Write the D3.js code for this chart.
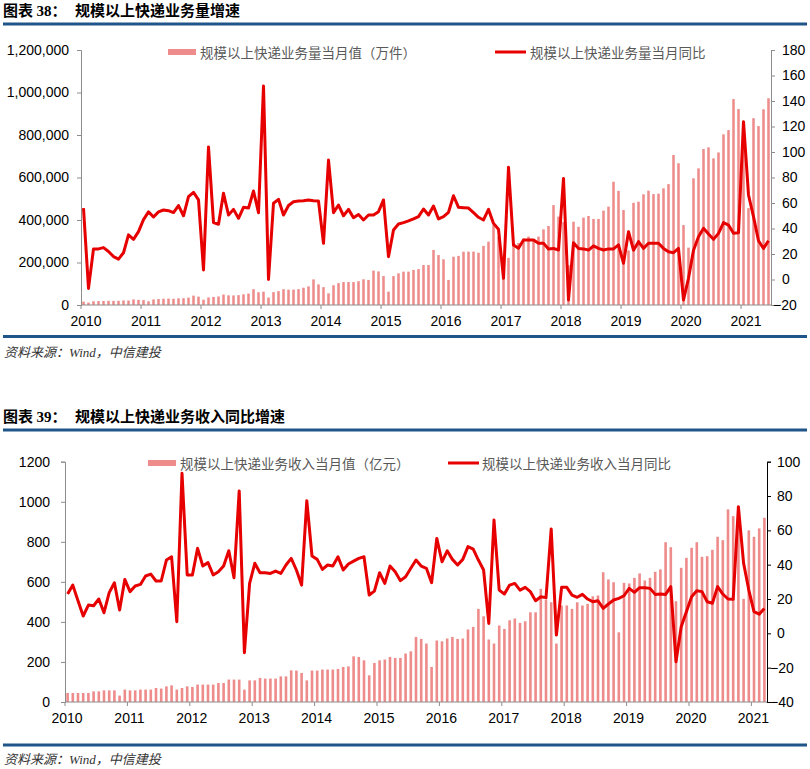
<!DOCTYPE html>
<html><head><meta charset="utf-8">
<script src="https://cdn.jsdelivr.net/npm/d3@7"></script>
<style>
body{margin:0;background:#fff;}
svg{display:block;}
</style></head><body>
<svg id="c" width="810" height="769"></svg>
<script>
// ---------------- DATA: chart 38 (express volume) ----------------
const years1 = ["2010","2011","2012","2013","2014","2015","2016","2017","2018","2019","2020","2021"];
const volume = [ // 万件, monthly from Jan 2010
 15780,11330,17670,18300,19000,19600,19100,19800,21400,21000,26200,24300,
 23200,17300,26300,28000,29400,30200,29100,31300,32100,34600,44000,39400,
 24900,35300,38000,40100,49300,45500,45100,46300,50300,54000,74500,60000,
 62700,35300,60700,65300,74200,71900,72600,74800,81400,87700,120500,96900,
 84000,55000,93000,103000,108000,108000,108000,112000,121000,118000,162000,158000,
 136000,63000,136000,149000,157000,157000,165000,169000,188000,188000,259000,235000,
 215000,118000,227000,231000,251000,251000,251000,246000,278000,298000,376000,322000,
 217000,222000,285000,292000,313000,322000,309000,322000,356000,372000,470000,416000,
 390000,187000,392000,368000,411000,419000,405000,405000,444000,463000,580000,537000,
 447000,257000,481000,486000,521000,538000,522000,524000,549000,569000,706000,667000,
 376000,270000,596000,643000,734000,742000,690000,718000,803000,823000,969000,922000,
 835000,456000,879000,842000,921000,973000
];
const volumeYoY = [ // %
 56,-7,24,24,25,22,18,16,21,35,31.5,37.5,
 47,53,49,53,54.5,54,52.5,58,50,65,68.4,62.4,
 7.5,104,44.6,43.3,67.6,50.6,55,48,56.6,56,69.4,52.4,
 151.8,0,59.8,62.9,50.6,58,61,61.5,61.8,62.4,61.8,61.5,
 28.4,93.7,52.4,58.4,50,55,48.5,51,46.7,50.6,50.6,53.2,
 62.4,17.9,38.8,43.5,44.6,46,47.5,49.3,55.3,50.6,57.6,47.5,
 49.3,52.7,65.7,56.6,56.3,56,52.4,48.8,46.7,55,44,39.4,
 1,88,27,24.5,31,31,31,28.4,28.4,24,24.4,23.1,
 79.3,-16,28.9,24.4,24,23.1,26.3,24.4,23.1,24,24,27.1,
 12.7,37.5,23,29.7,24.4,28.4,28.4,28.4,24.4,21.8,21,24.4,
 -16,1,23,33.6,40.2,35.7,31.5,36.2,44.6,42.7,36.2,36.7,
 123.8,66.3,49.3,30.4,24.4,30.4
];
const leftTicks1 = [0,200000,400000,600000,800000,1000000,1200000];
const rightTicks1 = [-20,0,20,40,60,80,100,120,140,160,180];

// ---------------- DATA: chart 39 (express revenue) ----------------
const years2 = ["2010","2011","2012","2013","2014","2015","2016","2017","2018","2019","2020","2021"];
const revenue = [ // 亿元
 45,45,45,45,45,53,53,58,58,58,32,62,
 58,58,62,62,62,70,67,78,83,62,70,78,
 75,87,87,87,87,95,95,112,112,112,62,108,
 108,120,117,117,117,128,128,158,157,145,108,157,
 157,162,162,162,165,175,178,228,225,208,133,195,
 208,212,225,220,220,242,253,325,315,292,175,307,
 303,317,325,315,317,362,375,465,428,312,292,382,
 365,408,417,395,403,448,448,565,512,498,292,482,
 482,465,498,482,490,528,532,648,612,598,348,595,
 592,620,642,607,620,650,662,798,773,503,670,720,
 770,798,725,728,760,825,808,962,928,870,515,857,
 825,867,920
];
const revenueYoY = [ // %
 22.9,28.1,19.0,10.1,16.5,16.1,20.0,12.0,23.7,29.5,13.6,31.4,
 24.3,27.6,28.5,33.4,34.5,30.5,30.5,42.7,44.6,6.8,93.2,34.0,
 34.0,49.5,39.2,41.2,34.0,35.9,39.2,48.1,32.4,83,-11.3,29.1,
 40.8,35.3,35.3,34.9,36.3,34.9,39.8,43.7,36.9,28.1,77.3,45.0,
 43.1,37.3,39.8,39.2,44.6,36.9,40.4,42.1,43.7,44.6,22.3,24.6,
 35.3,29.1,39.2,35.9,30.7,33.0,37.9,42.7,39.2,37.9,29.5,55.3,
 41.7,48.1,43.1,39.8,43.1,50.5,49.1,42.7,36.9,5.8,66.0,25.2,
 22.9,28.1,29.1,25.2,26.8,24.3,19.0,21.3,20.8,60.8,-1.0,26.8,
 26.8,22.3,21.0,22.7,20,18.4,19.0,14.5,17.1,19.4,20.4,21.9,
 26.2,23.9,26.6,26.6,26.2,22.7,22.9,22.7,27.2,-16.5,3.9,12.6,
 21.3,24.8,24.3,18.4,17.5,27.2,22.9,20.0,19.8,73.8,40.8,25.2,
 12.6,11.2,14.5
];
const leftTicks2 = [0,200,400,600,800,1000,1200];
const rightTicks2 = [-40,-20,0,20,40,60,80,100];

// ---------------- STYLE ----------------
const BLUE = "#1f5588", BAR = "#ee8b8b", LINE = "#e60000", AXIS = "#8c8c8c";
const NUM = "Liberation Sans, Arial, sans-serif";
const CJK = "Noto Sans CJK SC, sans-serif";

const svg = d3.select("#c");

function panel(o){
  const g = svg.append("g");
  // title
  const t = g.append("text").attr("x",3).attr("y",o.titleY).attr("font-size",15)
    .attr("font-weight","bold").attr("fill","#000");
  t.append("tspan").attr("font-family",CJK).text("图表 ");
  t.append("tspan").attr("font-family","Liberation Serif, serif").text(o.num);
  t.append("tspan").attr("font-family",CJK).text("：");
  g.append("text").attr("x",75).attr("y",o.titleY).attr("font-family",CJK)
    .attr("font-size",15).attr("font-weight","bold").attr("fill","#000").text(o.title);
  g.append("rect").attr("x",3).attr("y",o.ruleTop-1.5).attr("width",804).attr("height",3).attr("fill",BLUE);
  g.append("rect").attr("x",3).attr("y",o.ruleBot-1.5).attr("width",804).attr("height",3).attr("fill",BLUE);
  const src = g.append("text").attr("x",4).attr("y",o.srcY).attr("font-size",13)
    .attr("font-style","italic").attr("fill","#333");
  src.append("tspan").attr("font-family",CJK).text("资料来源：");
  src.append("tspan").attr("font-family","Liberation Serif, serif").text("Wind");
  src.append("tspan").attr("font-family",CJK).text("，中信建投");

  const cats = o.bars.map((d,i)=>i);
  const x = d3.scaleBand().domain(cats).range([o.x0,o.x1]).paddingInner(o.padIn).paddingOuter(o.padIn/2);
  const yL = d3.scaleLinear().domain([0,o.leftTicks[o.leftTicks.length-1]]).range([o.yB,o.yT]);
  const yR = d3.scaleLinear().domain([o.rightTicks[0],o.rightTicks[o.rightTicks.length-1]]).range([o.yB,o.yT]);

  // bars
  g.append("g").selectAll("rect").data(o.bars).join("rect")
    .attr("x",(d,i)=>x(i)).attr("width",x.bandwidth())
    .attr("y",d=>yL(d)).attr("height",d=>yL(0)-yL(d)).attr("fill",BAR);

  // axes
  const axL = g.append("g").attr("transform",`translate(${o.x0},0)`)
    .call(d3.axisLeft(yL).tickValues(o.leftTicks).tickSize(4).tickPadding(o.lPad).tickFormat(o.lFmt));
  const axR = g.append("g").attr("transform",`translate(${o.x1},0)`)
    .call(d3.axisRight(yR).tickValues(o.rightTicks).tickSize(4).tickPadding(7).tickFormat(d3.format("d")));
  axR.selectAll(".tick text").attr("x",d=>d<0?o.negX:o.posX);
  [axL,axR].forEach(a=>{
    a.select(".domain").attr("stroke",o.axisColor||AXIS);
    a.selectAll(".tick line").attr("stroke",o.axisColor||AXIS);
    a.selectAll(".tick text").attr("font-family",NUM).attr("font-size",14).attr("fill","#000");
  });
  axR.select(".domain").attr("stroke",o.rAxisColor); axR.selectAll(".tick line").attr("stroke",o.rAxisColor);
  // x axis
  const xa = g.append("g");
  xa.append("line").attr("x1",o.x0).attr("x2",o.x1).attr("y1",yL(0)).attr("y2",yL(0)).attr("stroke",AXIS);
  const half = (x.step()-x.bandwidth())/2;
  o.years.forEach((yr,k)=>{
    const xt = x(k*12) - half;
    xa.append("line").attr("x1",xt).attr("x2",xt).attr("y1",yL(0)).attr("y2",yL(0)+4).attr("stroke",AXIS);
    xa.append("text").attr("x",xt+o.labOff).attr("y",o.xLabY).attr("text-anchor","middle")
      .attr("font-family",NUM).attr("font-size",14).attr("fill","#000").text(yr);
  });

  // line
  const ln = d3.line().x((d,i)=>x(i)+x.bandwidth()/2).y(d=>yR(d)).curve(d3.curveLinear);
  g.append("path").datum(o.line).attr("d",ln).attr("fill","none").attr("stroke",LINE)
    .attr("stroke-width",3).attr("stroke-linejoin","round");

  // legend
  const lg = g.append("g");
  lg.append("rect").attr("x",o.lg.rx).attr("y",o.lg.ry).attr("width",28).attr("height",6).attr("fill",BAR);
  lg.append("text").attr("x",o.lg.tx1).attr("y",o.lg.ty).attr("font-family",CJK).attr("font-size",13.5)
    .attr("fill","#595959").text(o.lg.t1);
  lg.append("line").attr("x1",o.lg.lx).attr("x2",o.lg.lx+31).attr("y1",o.lg.ry+3).attr("y2",o.lg.ry+3)
    .attr("stroke",LINE).attr("stroke-width",3);
  lg.append("text").attr("x",o.lg.tx2).attr("y",o.lg.ty).attr("font-family",CJK).attr("font-size",13.5)
    .attr("fill","#595959").text(o.lg.t2);
}

panel({
  num:"38", title:"规模以上快递业务量增速", titleY:16, ruleTop:24, ruleBot:336.5, srcY:357,
  bars:volume, line:volumeYoY, years:years1, leftTicks:leftTicks1, rightTicks:rightTicks1,
  x0:81, x1:771, yT:50, yB:305, padIn:0.5, lPad:8, lFmt:d3.format(","),
  posX:11, negX:2, rAxisColor:AXIS, xLabY:326, labOff:5,
  lg:{rx:168, ry:49, tx1:200, ty:58, lx:495, tx2:530,
      t1:"规模以上快递业务量当月值（万件）", t2:"规模以上快递业务量当月同比"}
});
panel({
  num:"39", title:"规模以上快递业务收入同比增速", titleY:422, ruleTop:430, ruleBot:745, srcY:764,
  bars:revenue, line:revenueYoY, years:years2, leftTicks:leftTicks2, rightTicks:rightTicks2,
  x0:65, x1:767, yT:461.7, yB:702, padIn:0.5, lPad:11, lFmt:d3.format("d"),
  posX:10, negX:3, rAxisColor:"#000", xLabY:723, labOff:2,
  lg:{rx:148, ry:460, tx1:180, ty:469, lx:448, tx2:482,
      t1:"规模以上快递业务收入当月值（亿元）", t2:"规模以上快递业务收入当月同比"}
});
</script>
</body></html>
